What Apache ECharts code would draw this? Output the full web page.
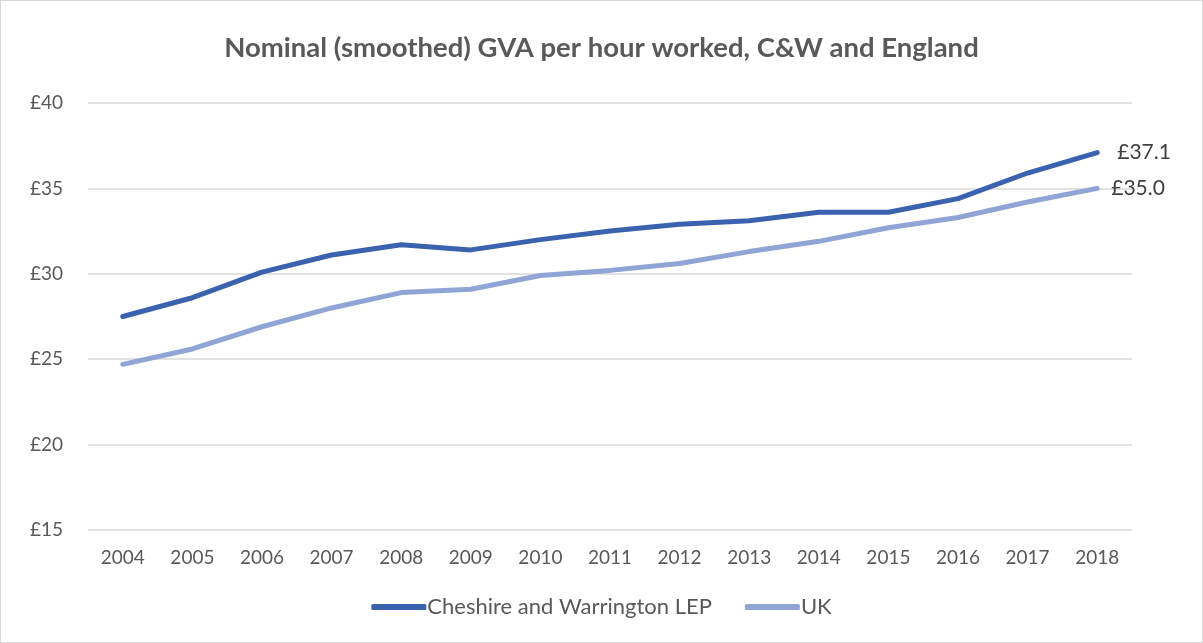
<!DOCTYPE html>
<html>
<head>
<meta charset="utf-8">
<script src="https://cdn.jsdelivr.net/npm/echarts@6/dist/echarts.min.js"></script>
<style>
html, body { margin: 0; padding: 0; background: #fff; }
#myChart { width: 1203px; height: 643px; box-sizing: border-box; border: 1px solid #d9d9d9; }
</style>
</head>
<body>
<div id="myChart"></div>
<script>
var years = ['2004', '2005', '2006', '2007', '2008', '2009', '2010', '2011', '2012', '2013', '2014', '2015', '2016', '2017', '2018'];
var cheshireValues = [27.5, 28.6, 30.1, 31.1, 31.7, 31.4, 32.0, 32.5, 32.9, 33.1, 33.6, 33.6, 34.4, 35.9, 37.1];
var ukValues = [24.7, 25.6, 26.9, 28.0, 28.9, 29.1, 29.9, 30.2, 30.6, 31.3, 31.9, 32.7, 33.3, 34.2, 35.0];
var seriesNames = ['Cheshire and Warrington LEP', 'UK'];

var fontName = 'Lato, "Open Sans", sans-serif';

var endFormatter = function(params) {
	return '£' + Number(params.value).toFixed(1);
};

var myChart = echarts.init(document.getElementById('myChart'));
var option = {
	animation : false,
	title : {
		text : 'Nominal (smoothed) GVA per hour worked, C&W and England',
		left : 'center',
		top : 28,
		textStyle : {
			fontFamily : fontName,
			fontSize : 27.5,
			fontWeight : 'bold',
			color : '#595959'
		}
	},
	legend : {
		bottom : 19,
		left : 'center',
		itemWidth : 55,
		itemHeight : 6,
		itemGap : 33,
		icon : 'roundRect',
		data : seriesNames,
		textStyle : {
			fontFamily : fontName,
			fontSize : 22,
			color : '#595959',
			padding : [0, 0, 0, -4]
		}
	},
	grid : {
		left : 87,
		right : 70,
		top : 102,
		bottom : 112
	},
	xAxis : {
		type : 'category',
		data : years,
		boundaryGap : true,
		axisLine : { show : false },
		axisTick : { show : false },
		axisLabel : {
			fontFamily : fontName,
			fontSize : 19,
			color : '#595959',
			margin : 18
		}
	},
	yAxis : {
		type : 'value',
		min : 15,
		max : 40,
		interval : 5,
		axisLine : { show : false },
		axisTick : { show : false },
		splitLine : { lineStyle : { color : '#d9d9d9', width : 1.5 } },
		axisLabel : {
			fontFamily : fontName,
			fontSize : 19,
			color : '#595959',
			margin : 25,
			formatter : '£{value}'
		}
	},
	series : [ {
		name : seriesNames[0],
		type : 'line',
		data : cheshireValues,
		symbol : 'none',
		color : '#3a62af',
		lineStyle : { width : 5, cap : 'round', join : 'round' },
		endLabel : {
			show : true,
			distance : 20,
			formatter : endFormatter,
			fontFamily : fontName,
			fontSize : 21,
			color : '#404040'
		}
	}, {
		name : seriesNames[1],
		type : 'line',
		data : ukValues,
		symbol : 'none',
		color : '#8fa5d6',
		lineStyle : { width : 5, cap : 'round', join : 'round' },
		endLabel : {
			show : true,
			distance : 14,
			formatter : endFormatter,
			fontFamily : fontName,
			fontSize : 21,
			color : '#404040'
		}
	} ]
};
myChart.setOption(option);
</script>
</body>
</html>
